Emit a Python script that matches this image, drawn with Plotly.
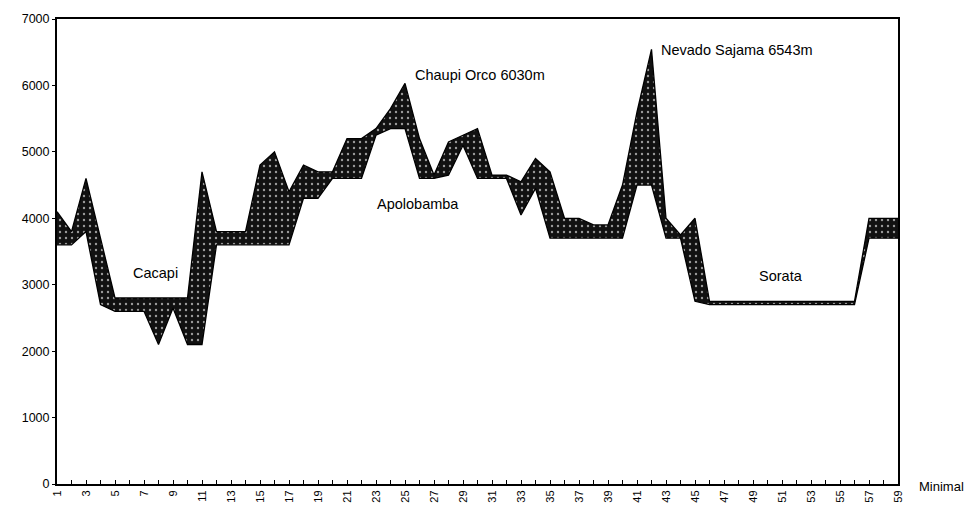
import plotly.graph_objects as go

days = list(range(1, 60))
upper = [4100, 3800, 4600, 3700, 2800, 2800, 2800, 2800, 2800, 2800,
         4700, 3800, 3800, 3800, 4800, 5000, 4400, 4800, 4700, 4700,
         5200, 5200, 5350, 5650, 6030, 5200, 4650, 5150, 5250, 5350,
         4650, 4650, 4550, 4900, 4700, 4000, 4000, 3900, 3900, 4500,
         5600, 6543, 4000, 3750, 4000, 2750, 2750, 2750, 2750, 2750,
         2750, 2750, 2750, 2750, 2750, 2750, 4000, 4000, 4000]
lower = [3600, 3600, 3800, 2700, 2600, 2600, 2600, 2100, 2650, 2100,
         2100, 3600, 3600, 3600, 3600, 3600, 3600, 4300, 4300, 4600,
         4600, 4600, 5250, 5350, 5350, 4600, 4600, 4650, 5100, 4600,
         4600, 4600, 4050, 4450, 3700, 3700, 3700, 3700, 3700, 3700,
         4500, 4500, 3700, 3700, 2750, 2700, 2700, 2700, 2700, 2700,
         2700, 2700, 2700, 2700, 2700, 2700, 3700, 3700, 3700]
y_ticks = [0, 1000, 2000, 3000, 4000, 5000, 6000, 7000]
x_ticktext = [str(d) if d % 2 == 1 else "" for d in days]

labels = ["Cacapi", "Chaupi Orco 6030m", "Apolobamba", "Nevado Sajama 6543m", "Sorata"]
label_x = [7.8, 30.2, 25.9, 47.9, 50.9]
label_y = [3170, 6150, 4220, 6530, 3130]

FONT = "Liberation Sans, Arial, sans-serif"

fig = go.Figure()
fig.add_trace(go.Scatter(x=days, y=lower, mode="lines",
                         line=dict(color="black", width=1.3), showlegend=False,
                         hoverinfo="skip"))
fig.add_trace(go.Scatter(x=days, y=upper, mode="lines", fill="tonexty",
                         fillcolor="#111111",
                         fillpattern=dict(shape=".", bgcolor="#111111", fgcolor="#9a9a9a",
                                          size=6, solidity=0.12, fillmode="replace"),
                         line=dict(color="black", width=1.3), showlegend=False,
                         hoverinfo="skip"))

for t, x, y in zip(labels, label_x, label_y):
    fig.add_annotation(x=x, y=y, text=t, showarrow=False, xanchor="center", yanchor="middle",
                       font=dict(family=FONT, size=14.5, color="black"))

fig.add_annotation(xref="paper", yref="paper", x=1.022, y=-0.006, text="Minimal", showarrow=False,
                   xanchor="left", yanchor="middle", font=dict(family=FONT, size=13, color="black"))

fig.update_layout(
    width=966, height=515,
    margin=dict(l=57, r=68, t=18, b=27),
    paper_bgcolor="white", plot_bgcolor="white",
    font=dict(family=FONT, size=12, color="black"),
    xaxis=dict(range=[1, 59], tickmode="array", tickvals=days, ticktext=x_ticktext,
               tickangle=-90, ticks="inside", ticklen=4, tickcolor="black",
               showgrid=False, zeroline=False, showline=True, linecolor="black",
               linewidth=2, mirror=True, tickfont=dict(family=FONT, size=11)),
    yaxis=dict(range=[0, 7000], tickmode="array", tickvals=y_ticks,
               ticks="outside", ticklen=3, tickcolor="black",
               showgrid=False, zeroline=False, showline=True, linecolor="black",
               linewidth=2, mirror=True, tickfont=dict(family=FONT, size=12.5)),
)

fig.write_html("out.html", config={"displayModeBar": False},
               post_script="document.body.style.margin='0';")
